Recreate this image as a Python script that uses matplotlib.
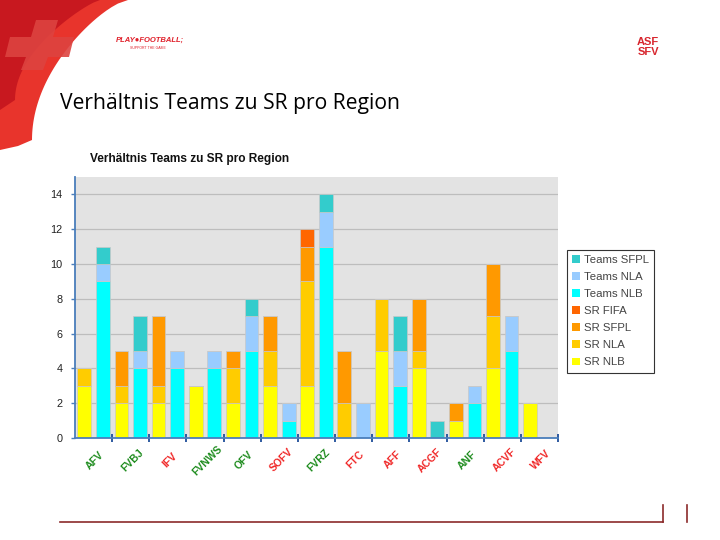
import numpy as np
import matplotlib
matplotlib.use("Agg")
import matplotlib.pyplot as plt
from matplotlib.patches import Polygon, Patch
import matplotlib.transforms as mtransforms

# ---- data -------------------------------------------------------------
regions = ["AFV", "FVBJ", "IFV", "FVNWS", "OFV", "SOFV", "FVRZ",
           "FTC", "AFF", "ACGF", "ANF", "ACVF", "WFV"]
label_colors = ["green", "green", "red", "green", "green", "red", "green",
                "red", "red", "red", "green", "red", "red"]

# referees (SR) per region
sr_nlb = [3, 2, 2, 3, 2, 3, 3, 0, 5, 4, 1, 4, 2]
sr_nla = [1, 1, 1, 0, 2, 2, 6, 2, 3, 1, 0, 3, 0]
sr_sfpl = [0, 2, 4, 0, 1, 2, 2, 3, 0, 3, 1, 3, 0]
sr_fifa = [0, 0, 0, 0, 0, 0, 1, 0, 0, 0, 0, 0, 0]

# teams per region
teams_nlb = [9, 4, 4, 4, 5, 1, 11, 0, 3, 0, 2, 5, 0]
teams_nla = [1, 1, 1, 1, 2, 1, 2, 2, 2, 0, 1, 2, 0]
teams_sfpl = [1, 2, 0, 0, 1, 0, 1, 0, 2, 1, 0, 0, 0]

y_ticks = [0, 2, 4, 6, 8, 10, 12, 14]

# ---- colours ----------------------------------------------------------
C_T_SFPL = "#33CCCC"
C_T_NLA = "#99CCFF"
C_T_NLB = "#00FFFF"
C_SR_FIFA = "#FF6600"
C_SR_SFPL = "#FF9900"
C_SR_NLA = "#FFCC00"
C_SR_NLB = "#FFFF00"
AXIS_BLUE = "#4A7EBB"
GREEN = "#1E8C1E"
RED = "#F02828"

fig = plt.figure(figsize=(7.2, 5.4), dpi=100)
fig.patch.set_facecolor("white")

# ---- slide decoration (pixel coords) ---------------------------------
bg = fig.add_axes([0, 0, 1, 1], zorder=0)
bg.set_xlim(0, 720)
bg.set_ylim(540, 0)
bg.axis("off")

# red swoosh, top left
t = np.linspace(0, 1, 40)
edge_x = 128 - 96 * np.sin(t * np.pi / 2) ** 0.7
edge_y = 140 * t
outer = list(zip(edge_x, edge_y)) + [(18, 146), (0, 150), (0, 0)]
bg.add_patch(Polygon(outer, closed=True, facecolor="#E8342C", edgecolor="none"))
# darker inner band
bx = 100 - 85 * np.sin(t * np.pi / 2) ** 0.8
by = 100 * t
band = [(0, 0)] + list(zip(bx, by)) + [(0, 110)]
bg.add_patch(Polygon(band, closed=True, facecolor="#C8181F", edgecolor="none"))
# faint swiss cross
bg.add_patch(Polygon([(36, 20), (58, 20), (53, 37), (74, 37), (69, 57), (48, 57),
                      (43, 70), (21, 70), (26, 57), (5, 57), (10, 37), (31, 37)],
                     closed=True, facecolor="#DD4340", edgecolor="none", alpha=0.9))

bg.text(150, 40, "PLAY\u25CFFOOTBALL;", color="#E0202A", fontsize=5.5,
        fontweight="bold", style="italic", ha="center", va="center",
        family="Liberation Sans")
bg.text(148, 48, "SUPPORT THE GAME", color="#E0202A", fontsize=2.5,
        ha="center", va="center", family="Liberation Sans")
bg.text(648, 47, "ASF\nSFV", color="#D8262E", fontsize=8, fontweight="bold",
        ha="center", va="center", linespacing=0.9, family="Liberation Sans")

bg.text(60, 103, "Verhältnis Teams zu SR pro Region", fontsize=15.2,
        family="Open Sans", ha="left", va="center", color="black")

bg.plot([60, 663], [522, 522], color="#8B2A2A", lw=1.2)
bg.plot([663, 663], [505, 522], color="#8B2A2A", lw=1.2)
bg.plot([687, 687], [505, 522], color="#8B2A2A", lw=1.2)

bg.text(90, 159, "Verhältnis Teams zu SR pro Region", fontsize=8.6,
        fontweight="bold", family="Liberation Sans", ha="left", va="center",
        color="#111111")

# ---- chart ------------------------------------------------------------
ax = fig.add_axes([75 / 720, 1 - 438 / 540, (558 - 75) / 720, (438 - 177) / 540],
                  zorder=2)
ax.set_facecolor("#E3E3E3")

n = len(regions)
x_sr = np.arange(n) * 2 + 0.5
x_tm = np.arange(n) * 2 + 1.5
w = 0.74
ek = dict(edgecolor="#C8C8C8", linewidth=0.5, zorder=3)

b = np.zeros(n)
for vals, col in [(sr_nlb, C_SR_NLB), (sr_nla, C_SR_NLA),
                  (sr_sfpl, C_SR_SFPL), (sr_fifa, C_SR_FIFA)]:
    v = np.array(vals, dtype=float)
    ax.bar(x_sr, v, w, bottom=b, color=col, **ek)
    b += v

b = np.zeros(n)
for vals, col in [(teams_nlb, C_T_NLB), (teams_nla, C_T_NLA), (teams_sfpl, C_T_SFPL)]:
    v = np.array(vals, dtype=float)
    ax.bar(x_tm, v, w, bottom=b, color=col, **ek)
    b += v

ax.set_xlim(0, 2 * n)
ax.set_ylim(0, 15)
ax.set_yticks(y_ticks)
ax.yaxis.grid(True, color="#BDBDBD", linewidth=0.9, zorder=1)
ax.set_axisbelow(True)

for s in ["top", "right"]:
    ax.spines[s].set_visible(False)
for s in ["left", "bottom"]:
    ax.spines[s].set_color(AXIS_BLUE)
    ax.spines[s].set_linewidth(1.3)
    ax.spines[s].set_zorder(4)

ax.set_xticks(np.arange(1, n + 1) * 2)
ax.set_xticklabels([])
ax.tick_params(axis="x", direction="inout", length=6, color="#1F4E9A", width=1.3)
ax.tick_params(axis="y", direction="out", length=3, color=AXIS_BLUE, width=1,
               labelsize=7.8, labelcolor="#222222", pad=6)
for lab in ax.get_yticklabels():
    lab.set_family("Liberation Sans")

trans = mtransforms.blended_transform_factory(ax.transData, ax.transAxes)
for i, (name, c) in enumerate(zip(regions, label_colors)):
    ax.text(2 * i + 1.1, -0.085, name, transform=trans, rotation=45,
            ha="center", va="center", fontsize=7.5, fontweight="bold",
            family="Liberation Sans", color=GREEN if c == "green" else RED)

handles = [Patch(facecolor=C_T_SFPL, label="Teams SFPL"),
           Patch(facecolor=C_T_NLA, label="Teams NLA"),
           Patch(facecolor=C_T_NLB, label="Teams NLB"),
           Patch(facecolor=C_SR_FIFA, label="SR FIFA"),
           Patch(facecolor=C_SR_SFPL, label="SR SFPL"),
           Patch(facecolor=C_SR_NLA, label="SR NLA"),
           Patch(facecolor=C_SR_NLB, label="SR NLB")]
leg = fig.legend(handles=handles, loc="upper left",
                 bbox_to_anchor=(567 / 720, 1 - 250 / 540), frameon=True,
                 fancybox=False, edgecolor="#333333", framealpha=1,
                 prop={"family": "Liberation Sans", "size": 8.2},
                 handlelength=0.7, handleheight=0.7, handletextpad=0.3,
                 labelspacing=0.62, borderpad=0.45, borderaxespad=0)
leg.get_frame().set_linewidth(0.8)
for txt in leg.get_texts():
    txt.set_color("#444444")

fig.savefig("out.png", dpi=100)
